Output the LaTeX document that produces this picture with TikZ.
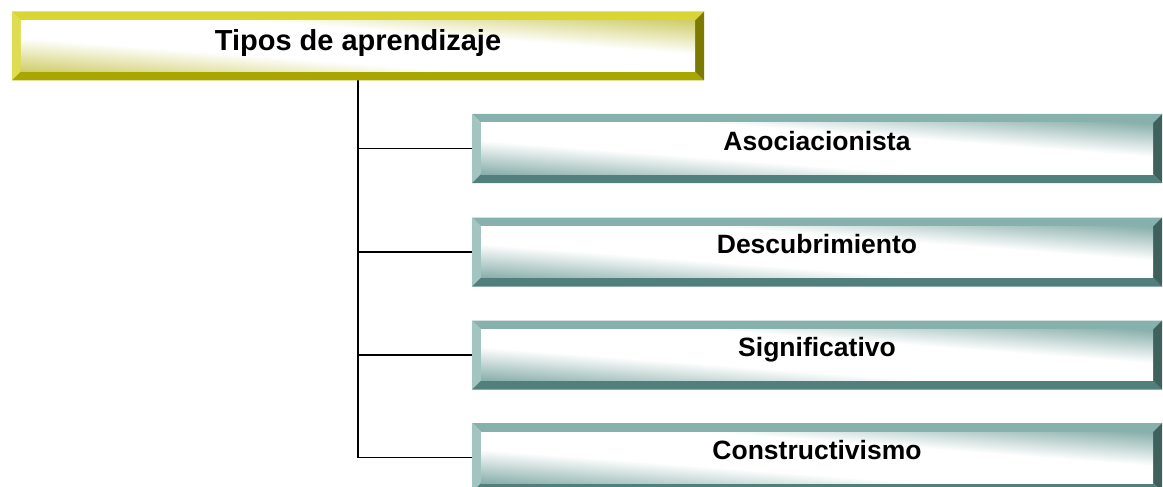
\documentclass[tikz,border=0pt]{standalone}
\usepackage{fontspec}
\setmainfont{Liberation Sans}
\usetikzlibrary{calc}
\definecolor{ytop}{HTML}{D8D534}
\definecolor{yleft}{HTML}{DEDC50}
\definecolor{ybot}{HTML}{A9A600}
\definecolor{yright}{HTML}{7C7A00}
\definecolor{ytint}{HTML}{D0CE6C}
\definecolor{gtop}{HTML}{86B1AD}
\definecolor{gleft}{HTML}{A3C5C2}
\definecolor{gbot}{HTML}{517F7B}
\definecolor{gright}{HTML}{3E615E}
\definecolor{gtint}{HTML}{8AB0AC}
\pgfdeclareverticalshading{gface}{100bp}{color(0bp)=(gtint); color(15bp)=(gtint); color(38bp)=(white); color(62bp)=(white); color(85bp)=(gtint); color(100bp)=(gtint)}
\pgfdeclareverticalshading{yface}{100bp}{color(0bp)=(ytint); color(15bp)=(ytint); color(38bp)=(white); color(62bp)=(white); color(85bp)=(ytint); color(100bp)=(ytint)}
% #1 node, #2 bevel, #3-#6 bevel colours, #7 face shading, #8 half inner width, #9 half inner height
\newcommand\bevbox[9]{%
  \fill[#3] (#1.north west) -- (#1.north east) -- ($(#1.north east)+(-#2,#2)$) -- ($(#1.north west)+(#2,#2)$) -- cycle;
  \fill[#4] (#1.north west) -- ($(#1.north west)+(#2,#2)$) -- ($(#1.south west)+(#2,-#2)$) -- (#1.south west) -- cycle;
  \fill[#5] (#1.south west) -- ($(#1.south west)+(#2,-#2)$) -- ($(#1.south east)+(-#2,-#2)$) -- (#1.south east) -- cycle;
  \fill[#6] (#1.north east) -- (#1.south east) -- ($(#1.south east)+(-#2,-#2)$) -- ($(#1.north east)+(-#2,#2)$) -- cycle;
  \begin{scope}[transform canvas={shift={(#1.center)}, xscale=#8, yscale=#9}]
    \shade[shading=#7, shading angle=-45] (-1,-1) rectangle (1,1);
  \end{scope}
}
\begin{document}
\begin{tikzpicture}[x=1pt,y=-1pt,
  bx/.style={rectangle, inner sep=0pt, outer sep=0pt},
  topbx/.style={bx, minimum width=692pt, minimum height=69pt},
  childbx/.style={bx, minimum width=690pt, minimum height=69pt},
  toplbl/.style={anchor=base, inner sep=0pt, font=\fontsize{29}{31}\selectfont\bfseries},
  lbl/.style={anchor=base, inner sep=0pt, font=\fontsize{26.5}{28}\selectfont\bfseries},
  conn/.style={draw=black, line width=1.8pt}]
\useasboundingbox (0,0) rectangle (1163,487);
\node[topbx] (top) at (358,46) {};
\node[childbx] (c1) at (817,148.5) {};
\node[childbx] (c2) at (817,252) {};
\node[childbx] (c3) at (817,355) {};
\node[childbx] (c4) at (817,457.5) {};
\draw[conn] (top.south) -- (top.south |- c4.west) -- (c4.west);
\draw[conn] (top.south |- c1.west) -- (c1.west);
\draw[conn] (top.south |- c2.west) -- (c2.west);
\draw[conn] (top.south |- c3.west) -- (c3.west);
\bevbox{top}{9}{ytop}{yleft}{ybot}{yright}{yface}{337}{25.5}
\bevbox{c1}{9}{gtop}{gleft}{gbot}{gright}{gface}{336}{25.5}
\bevbox{c2}{9}{gtop}{gleft}{gbot}{gright}{gface}{336}{25.5}
\bevbox{c3}{9}{gtop}{gleft}{gbot}{gright}{gface}{336}{25.5}
\bevbox{c4}{9}{gtop}{gleft}{gbot}{gright}{gface}{336}{25.5}
\node[toplbl] (t0) at ($(top.center)+(0,5)$) {Tipos de aprendizaje};
\node[lbl] (t1) at ($(c1.center)+(0,1.5)$) {Asociacionista};
\node[lbl] (t2) at ($(c2.center)+(0,1.5)$) {Descubrimiento};
\node[lbl] (t3) at ($(c3.center)+(0,1.5)$) {Significativo};
\node[lbl] (t4) at ($(c4.center)+(0,1.5)$) {Constructivismo};
\end{tikzpicture}
\end{document}
